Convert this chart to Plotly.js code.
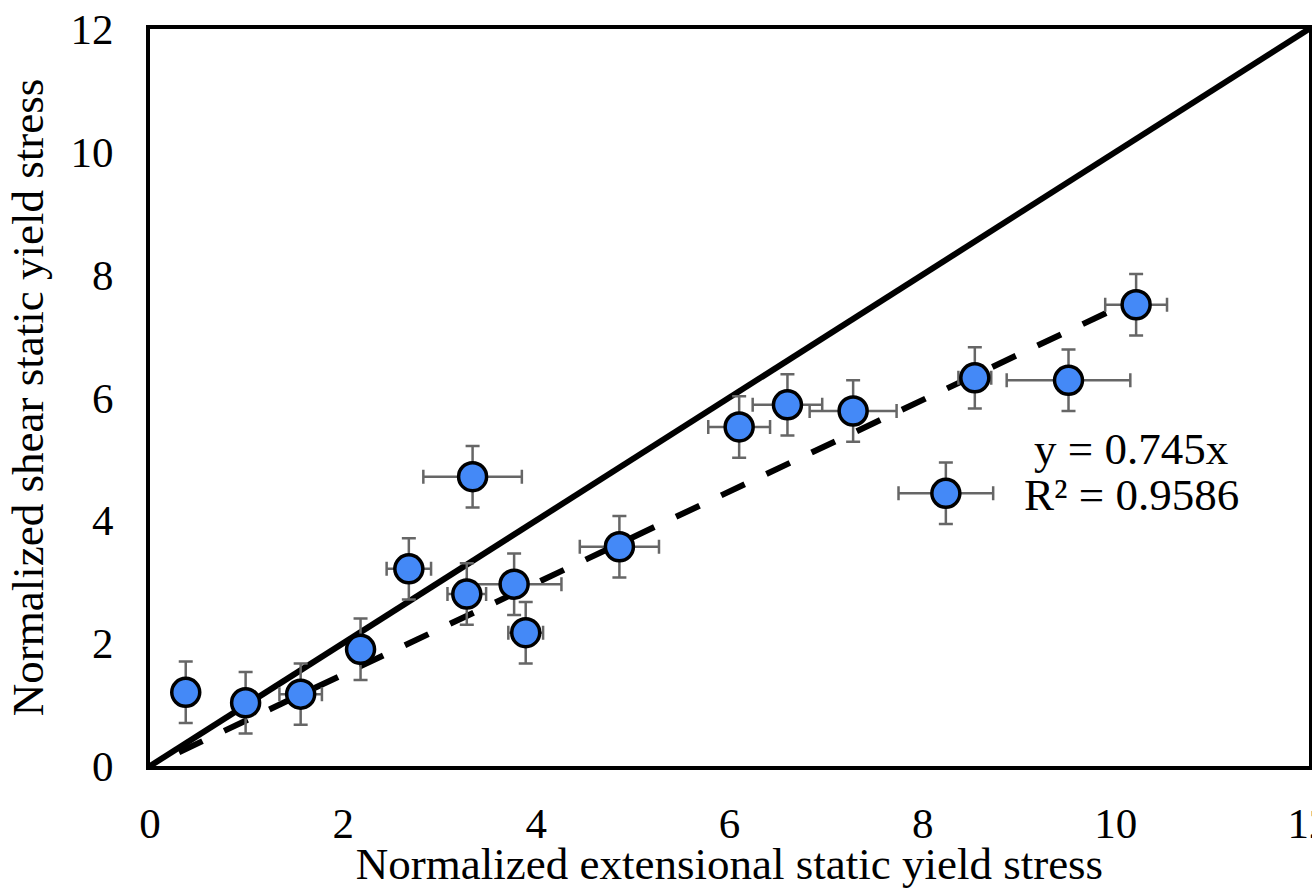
<!DOCTYPE html>
<html>
<head>
<meta charset="utf-8">
<script src="https://cdn.plot.ly/plotly-3.0.1.min.js"></script>
<style>html,body{margin:0;padding:0;background:#fff;overflow:hidden;}#chart{width:1312px;height:889px;}</style>
</head>
<body>
<div id="chart"></div>
<script>
const extStress = [0.37, 0.99, 1.56, 2.18, 2.68, 3.28, 3.34, 3.77, 3.89, 4.86, 6.10, 6.60, 7.28, 8.24, 8.54, 9.51, 10.21];
const shearStress = [1.20, 1.03, 1.17, 1.90, 3.21, 2.80, 4.71, 2.96, 2.17, 3.57, 5.52, 5.88, 5.78, 4.44, 6.32, 6.28, 7.51];
const extError = [0.10, 0.10, 0.22, 0.10, 0.23, 0.20, 0.51, 0.49, 0.18, 0.41, 0.32, 0.36, 0.45, 0.49, 0.17, 0.64, 0.32];
const shearError = [0.5, 0.5, 0.5, 0.5, 0.5, 0.5, 0.5, 0.5, 0.5, 0.5, 0.5, 0.5, 0.5, 0.5, 0.5, 0.5, 0.5];
const fitSlope = 0.745;
const fitR2 = 0.9586;
const fitRange = [0.3, 10.2];
const identityRange = [0, 12];
const xTicks = [0, 2, 4, 6, 8, 10, 12];
const yTicks = [0, 2, 4, 6, 8, 10, 12];

const font = 'Liberation Serif, Times New Roman, serif';

const traces = [
  {
    x: identityRange, y: identityRange, mode: 'lines',
    line: {color: '#000', width: 6}, hoverinfo: 'skip', showlegend: false
  },
  {
    x: fitRange, y: fitRange.map(v => fitSlope * v), mode: 'lines',
    line: {color: '#000', width: 6, dash: '26px,24px'}, hoverinfo: 'skip', showlegend: false
  },
  {
    x: extStress, y: shearStress, mode: 'markers', type: 'scatter',
    error_x: {type: 'data', array: extError, visible: true, color: '#666', thickness: 2.5, width: 7},
    error_y: {type: 'data', array: shearError, visible: true, color: '#666', thickness: 2.5, width: 7},
    marker: {size: 28, color: '#4489F7', line: {color: '#000', width: 3.5}},
    showlegend: false
  }
];

const layout = {
  width: 1312, height: 889,
  margin: {l: 150, r: 3, t: 29, b: 123},
  paper_bgcolor: '#fff', plot_bgcolor: '#fff',
  font: {family: font, color: '#000', size: 43},
  xaxis: {
    range: [0, 12], tickvals: xTicks, ticktext: xTicks.map(String),
    showgrid: false, zeroline: false, showline: true, mirror: true,
    linecolor: '#000', linewidth: 4, ticks: '', ticklabeloverflow: 'allow',
    ticklabelstandoff: 16,
    tickfont: {family: font, size: 43, color: '#000'},
    title: {text: 'Normalized extensional static yield stress', font: {family: font, size: 45, color: '#000'}, standoff: 4}
  },
  yaxis: {
    range: [0, 12], tickvals: yTicks, ticktext: yTicks.map(String),
    showgrid: false, zeroline: false, showline: true, mirror: true,
    linecolor: '#000', linewidth: 4, ticks: '', ticklabeloverflow: 'allow',
    ticklabelstandoff: 24,
    tickfont: {family: font, size: 43, color: '#000'},
    title: {text: 'Normalized shear static yield stress', font: {family: font, size: 45, color: '#000'}, standoff: 14}
  },
  annotations: [
    {x: 10.16, y: 5.16, xref: 'x', yref: 'y', text: 'y = ' + fitSlope + 'x',
     showarrow: false, align: 'center', font: {family: font, size: 45, color: '#000'}},
    {x: 10.16, y: 4.41, xref: 'x', yref: 'y', text: 'R² = ' + fitR2,
     showarrow: false, align: 'center', font: {family: font, size: 45, color: '#000'}}
  ]
};

Plotly.newPlot('chart', traces, layout, {displayModeBar: false, staticPlot: true});
</script>
</body>
</html>
